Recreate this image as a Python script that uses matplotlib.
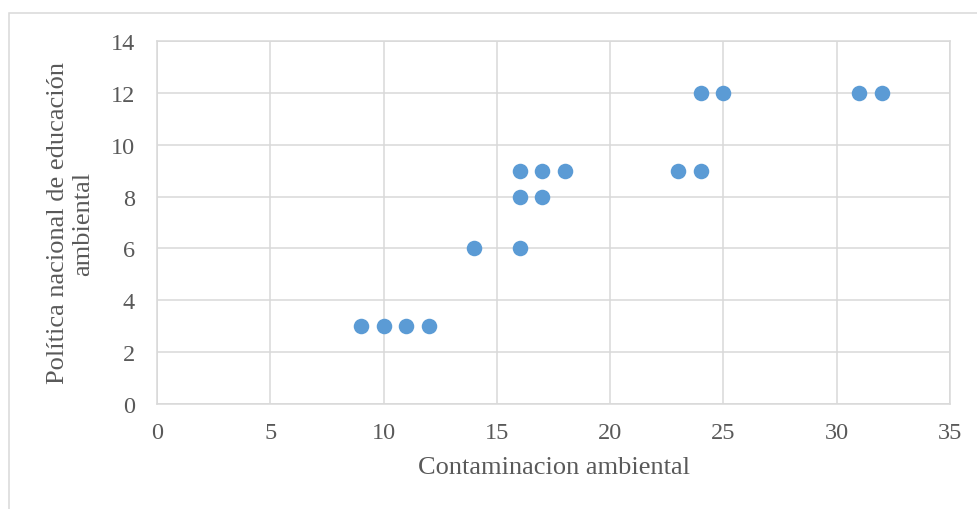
import matplotlib.pyplot as plt
from matplotlib.patches import Rectangle

# valores
contaminacion = [9, 10, 11, 12, 14, 16, 16, 17, 16, 17, 18, 23, 24, 24, 25, 31, 32]
politica = [3, 3, 3, 3, 6, 6, 8, 8, 9, 9, 9, 9, 9, 12, 12, 12, 12]
x_ticks = [0, 5, 10, 15, 20, 25, 30, 35]
y_ticks = [0, 2, 4, 6, 8, 10, 12, 14]

GRID = "#d9d9d9"
TEXT = "#595959"
plt.rcParams["font.family"] = ["Liberation Serif", "DejaVu Serif"]

fig = plt.figure(figsize=(9.77, 5.10), dpi=100)
ax = fig.add_axes([157 / 977, 105 / 510, 793 / 977, 363 / 510])

ax.scatter(contaminacion, politica, s=125, color="#5b9bd5", zorder=3, linewidths=0)

ax.set_xlim(0, 35)
ax.set_ylim(0, 14)
ax.set_xticks(x_ticks)
ax.set_yticks(y_ticks)
ax.grid(True, color=GRID, linewidth=1.1)
ax.set_axisbelow(True)
for s in ax.spines.values():
    s.set_color(GRID)
    s.set_linewidth(1.1)
ax.tick_params(length=0, labelsize=17.5, labelcolor=TEXT)
ax.tick_params(axis="x", pad=13)
ax.tick_params(axis="y", pad=16)

ax.set_xlabel("Contaminacion ambiental", fontsize=19, color=TEXT, labelpad=9)
ax.set_ylabel("Política nacional de educación\nambiental", fontsize=19,
              color=TEXT, labelpad=12, linespacing=1.15)

# marco del area del grafico
fig.patches.append(Rectangle((9 / 977, -0.1), 1.2, (510 - 14) / 510 + 0.1,
                             transform=fig.transFigure, fill=False,
                             edgecolor=GRID, linewidth=1.1))

fig.savefig("out.png", dpi=100)
